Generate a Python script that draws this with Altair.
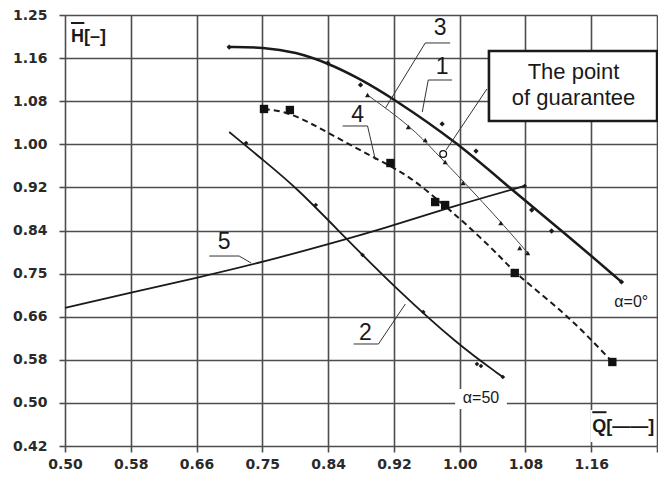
import altair as alt
import pandas as pd

# ---------------- axes ----------------
x_ticks = [0.5, 0.58333, 0.66667, 0.75, 0.83333, 0.91667, 1.0, 1.08333, 1.16667, 1.25]
x_tick_labels = ["0.50", "0.58", "0.66", "0.75", "0.84", "0.92", "1.00", "1.08", "1.16", ""]
y_ticks = [1.25, 1.16667, 1.08333, 1.0, 0.91667, 0.83333, 0.75, 0.66667, 0.58333, 0.5, 0.41667]
y_tick_labels = ["1.25", "1.16", "1.08", "1.00", "0.92", "0.84", "0.75", "0.66", "0.58", "0.50", "0.42"]
x_domain = [0.5, 1.25]
y_domain = [0.41667, 1.25]

# ---------------- curves ----------------
# 1: alpha = 0 deg (thick solid)
c1_x = [0.708, 0.751, 0.7925, 0.833, 0.872, 0.915, 0.998, 1.066, 1.133, 1.205]
c1_y = [1.188, 1.188, 1.1785, 1.157, 1.128, 1.0895, 1.0025, 0.912, 0.8285, 0.734]
c1m_x = [0.708, 0.833, 0.8744, 0.9778, 1.0207, 1.0913, 1.1165, 1.205]
c1m_y = [1.188, 1.157, 1.1147, 1.0393, 0.987, 0.873, 0.8324, 0.734]

# 3: thin line with triangles
c3_x = [0.8833, 0.9375, 0.969, 1.0055, 1.0535, 1.0862]
c3_y = [1.0953, 1.0354, 0.985, 0.9271, 0.8478, 0.7898]
c3m_x = [0.8833, 0.935, 0.9564, 0.9816, 1.0043, 1.0522, 1.0761, 1.0862]
c3m_y = [1.0953, 1.0335, 1.0083, 0.9658, 0.9252, 0.8478, 0.7995, 0.7898]

# 4: dashed with squares
c4_x = [0.7521, 0.7849, 0.8341, 0.8896, 0.935, 0.9753, 1.0068, 1.0535, 1.0698, 1.1329, 1.1707, 1.1934]
c4_y = [1.0683, 1.0625, 1.0218, 0.9754, 0.9406, 0.8884, 0.8478, 0.7802, 0.7512, 0.6738, 0.6158, 0.5791]
c4m_x = [0.7521, 0.7849, 0.9123, 0.969, 0.9816, 1.0698, 1.1934]
c4m_y = [1.0683, 1.0663, 0.9638, 0.8884, 0.8826, 0.7512, 0.5791]

# 2: alpha = 50
c2_x = [0.708, 0.7509, 0.7925, 0.8555, 0.9186, 0.998, 1.0547]
c2_y = [1.0238, 0.9696, 0.9174, 0.8188, 0.7222, 0.612, 0.5501]
c2m_x = [0.7294, 0.8177, 0.877, 0.9539, 1.0219, 1.027, 1.0547]
c2m_y = [1.0025, 0.8826, 0.786, 0.6758, 0.5752, 0.5714, 0.5501]

# 5: system curve
c5_x = [0.5, 0.5819, 0.6664, 0.7509, 0.8341, 0.906, 0.9841, 1.0824]
c5_y = [0.6835, 0.7125, 0.7415, 0.7724, 0.8072, 0.8382, 0.8768, 0.9194]
c5m_x = [1.0824]
c5m_y = [0.9194]

# point of guarantee
g_x = [0.9791]
g_y = [0.9812]

# ---------------- annotations ----------------
num_text = ["3", "1", "4", "5", "2"]
num_x = [0.9753, 0.9778, 0.8707, 0.7017, 0.8807]
num_y = [1.2249, 1.1495, 1.0567, 0.8111, 0.6352]

# underlines (x, x2, y)
ul_x = [0.9564, 0.9602, 0.8517, 0.6828, 0.8656]
ul_x2 = [0.9879, 0.9904, 0.8833, 0.7206, 0.8971]
ul_y = [1.1959, 1.1243, 1.0354, 0.784, 0.6139]

# leader lines (x, y) -> (x2, y2)
ld_x = [0.9564, 0.9602, 0.8833, 0.7206, 0.8971, 0.9828]
ld_y = [1.1959, 1.1243, 1.0354, 0.784, 0.6139, 0.989]
ld_x2 = [0.906, 0.9526, 0.8933, 0.7358, 0.9312, 1.0345]
ld_y2 = [1.0702, 1.0625, 0.9696, 0.7705, 0.6912, 1.1069]

box_x, box_x2, box_y, box_y2 = [1.0371], [1.2501], [1.1804], [1.045]
box_text = ["The point", "of guarantee"]
box_tx = [1.1442, 1.1442]
box_ty = [1.1398, 1.0895]

alpha_text = ["\u03b1=0\u00b0", "\u03b1=50"]
alpha_x = [1.2174, 1.027]
alpha_y = [0.6951, 0.5095]

# white patches behind labels that sit on the grid
wp_x = [0.9942, 1.1657]
wp_x2 = [1.0598, 1.2489]
wp_y = [0.5269, 0.4863]
wp_y2 = [0.4882, 0.4244]

ax_text = ["H[\u2013]", "Q[\u2014\u2014]"]
ax_x = [0.5076, 1.168]
ax_y = [1.207, 0.453]
ov_x = [0.5076, 1.168]
ov_x2 = [0.5245, 1.186]
ov_y = [1.2345, 0.482]

# ---------------- chart ----------------
GRID = "#4d4d4d"
INK = "#1a1a1a"
xs = alt.Scale(domain=x_domain, nice=False, zero=False)
ys = alt.Scale(domain=y_domain, nice=False, zero=False)
x_expr = "[" + ",".join("'%s'" % s for s in x_tick_labels) + "][round((datum.value-0.5)*12)]"
y_expr = "[" + ",".join("'%s'" % s for s in y_tick_labels) + "][round((1.25-datum.value)*12)]"
common_axis = dict(title=None, grid=True, gridColor=GRID, gridWidth=1.6, domain=False,
                   ticks=True, tickColor=GRID, tickWidth=1.6, tickSize=6,
                   labelFont="DejaVu Sans", labelFontWeight="bold", labelFontSize=14,
                   labelColor="#2a2a2a", labelFlush=False, labelOverlap=False)
xaxis = alt.Axis(values=x_ticks, labelExpr=x_expr, labelPadding=5, labelAlign="center",
                 labelBaseline="top", **common_axis)
yaxis = alt.Axis(values=y_ticks, labelExpr=y_expr, labelPadding=12, labelAlign="right",
                 labelBaseline="middle", **common_axis)


def X(f="x"):
    return alt.X(f, type="quantitative", scale=xs, axis=xaxis)


def Y(f="y"):
    return alt.Y(f, type="quantitative", scale=ys, axis=yaxis)


def df(x, y, **kw):
    d = pd.DataFrame({"x": x, "y": y})
    for k, v in kw.items():
        d[k] = v
    return d


def curve(x, y, **kw):
    return alt.Chart(df(x, y)).mark_line(interpolate="basis", **kw).encode(x=X(), y=Y())


def marks(x, y, **kw):
    return alt.Chart(df(x, y)).mark_point(filled=True, opacity=1, **kw).encode(x=X(), y=Y())


layers = []

# white patches
layers.append(alt.Chart(pd.DataFrame({"x": wp_x, "x2": wp_x2, "y": wp_y, "y2": wp_y2}))
              .mark_rect(fill="white")
              .encode(x=X(), x2="x2", y=Y(), y2="y2"))

# curves
layers.append(curve(c5_x, c5_y, color=INK, strokeWidth=1.8))
layers.append(curve(c2_x, c2_y, color=INK, strokeWidth=1.8))
layers.append(curve(c4_x, c4_y, color=INK, strokeWidth=2, strokeDash=[6, 4]))
layers.append(curve(c3_x, c3_y, color="#444444", strokeWidth=1))
layers.append(curve(c1_x, c1_y, color=INK, strokeWidth=2.5))

# markers
layers.append(marks(c1m_x, c1m_y, shape="diamond", color=INK, size=28))
layers.append(marks(c2m_x, c2m_y, shape="diamond", color=INK, size=22))
layers.append(marks(c5m_x, c5m_y, shape="diamond", color=INK, size=22))
layers.append(marks(c3m_x, c3m_y, shape="triangle-up", color=INK, size=26))
layers.append(marks(c4m_x, c4m_y, shape="square", color="#111111", size=70))
layers.append(alt.Chart(df(g_x, g_y)).mark_point(shape="circle", filled=False, color="#111111", size=45,
                                                  strokeWidth=1.3, opacity=1)
              .encode(x=X(), y=Y()))

# leaders & underlines
layers.append(alt.Chart(pd.DataFrame({"x": ld_x, "y": ld_y, "x2": ld_x2, "y2": ld_y2}))
              .mark_rule(color="#333333", strokeWidth=1)
              .encode(x=X(), y=Y(), x2="x2", y2="y2"))
layers.append(alt.Chart(pd.DataFrame({"x": ul_x, "x2": ul_x2, "y": ul_y}))
              .mark_rule(color="#333333", strokeWidth=1)
              .encode(x=X(), x2="x2", y=Y()))

# box
layers.append(alt.Chart(pd.DataFrame({"x": box_x, "x2": box_x2, "y": box_y, "y2": box_y2}))
              .mark_rect(fill="white", stroke=INK, strokeWidth=2.6)
              .encode(x=X(), x2="x2", y=Y(), y2="y2"))
layers.append(alt.Chart(df(box_tx, box_ty, t=box_text))
              .mark_text(font="Liberation Sans", fontSize=22, color=INK, align="center", baseline="middle")
              .encode(x=X(), y=Y(), text="t:N"))

# numerals
layers.append(alt.Chart(df(num_x, num_y, t=num_text))
              .mark_text(font="Liberation Sans", fontSize=23, color=INK, align="center", baseline="middle")
              .encode(x=X(), y=Y(), text="t:N"))

# alpha labels
layers.append(alt.Chart(df(alpha_x, alpha_y, t=alpha_text))
              .mark_text(font="Liberation Sans", fontSize=16, color=INK, align="center", baseline="middle")
              .encode(x=X(), y=Y(), text="t:N"))

# axis titles with overlines
layers.append(alt.Chart(df(ax_x, ax_y, t=ax_text))
              .mark_text(font="Liberation Sans", fontWeight="bold", fontSize=18, color=INK,
                         align="left", baseline="middle")
              .encode(x=X(), y=Y(), text="t:N"))
layers.append(alt.Chart(pd.DataFrame({"x": ov_x, "x2": ov_x2, "y": ov_y}))
              .mark_rule(color=INK, strokeWidth=2)
              .encode(x=X(), x2="x2", y=Y()))

chart = (alt.layer(*layers)
         .properties(width=592, height=431, autosize=alt.AutoSizeParams(type="none"),
                     padding={"left": 57, "top": 7, "right": 1, "bottom": 25})
         .configure_view(stroke=None)
         .configure(background="white"))

chart.save("out.html", embed_options={"renderer": "svg", "actions": False})
